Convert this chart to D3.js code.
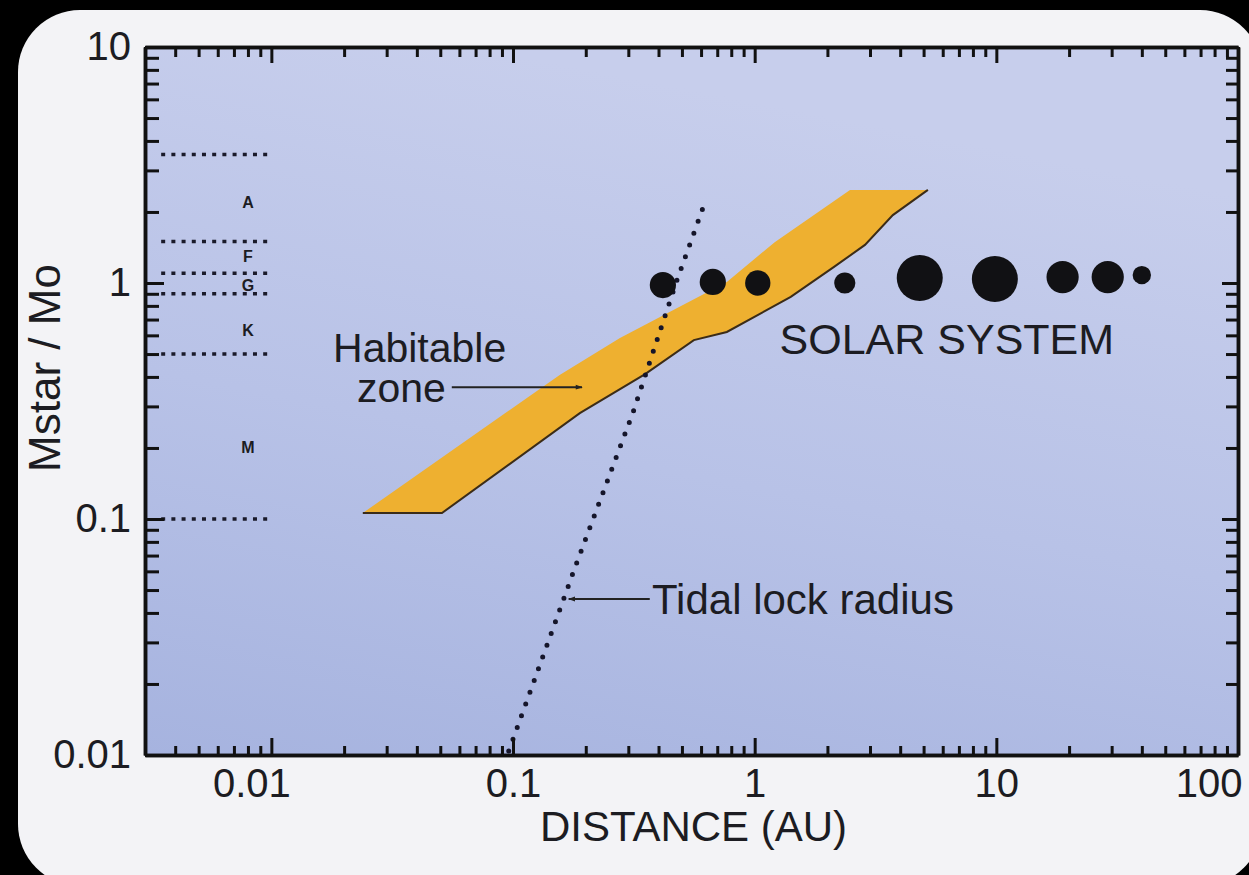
<!DOCTYPE html>
<html>
<head>
<meta charset="utf-8">
<script src="https://cdn.jsdelivr.net/npm/d3@7/dist/d3.min.js"></script>
<style>
  html, body { margin: 0; padding: 0; background: #000; }
  svg { display: block; }
  text { font-family: "Liberation Sans", Arial, Helvetica, sans-serif; fill: #1c1c22; }
</style>
</head>
<body>
<svg id="chart" width="1249" height="875"></svg>
<script>
// ---------------- data ----------------
const xDomain = [0.003, 100];          // DISTANCE (AU)
const yDomain = [0.01, 10];            // Mstar / Mo
const xMajorTicks = [0.01, 0.1, 1, 10, 100];
const xTickLabels = ["0.01", "0.1", "1", "10", "100"];
const yMajorTicks = [0.01, 0.1, 1, 10];
const yTickLabels = ["0.01", "0.1", "1", "10"];
const xTitle = "DISTANCE (AU)";
const yTitle = "Mstar / Mo";

// spectral type boundaries (Msun) and labels
const specBounds = [3.5, 1.5, 1.1, 0.9, 0.5, 0.1];
const specBoundAU = [0.0035, 0.0098];
const specLetters = ["A", "F", "G", "K", "M"];
const specLetterMass = [2.2, 1.29, 0.98, 0.63, 0.2];
const specLetterAU = 0.008;

// habitable zone band: inner (upper-left) edge and outer (lower-right) edge, [AU, Msun]
const hzInner = [[0.0239, 0.106], [0.156, 0.408], [0.277, 0.585], [0.767, 1.01], [1.21, 1.49], [2.48, 2.48]];
const hzOuter = [[0.0508, 0.106], [0.189, 0.281], [0.352, 0.411], [0.56, 0.573], [0.767, 0.62],
                 [1.41, 0.873], [2.13, 1.17], [2.86, 1.45], [3.73, 1.94], [5.21, 2.48]];

// tidal lock radius
const tidalAU = [0.096, 0.182, 0.313, 0.477, 0.617];
const tidalMass = [0.0104, 0.0638, 0.281, 1.03, 2.14];

// solar system planets
const planetNames = ["Mercury", "Venus", "Earth", "Mars", "Jupiter", "Saturn", "Uranus", "Neptune", "Pluto"];
const planetAU = [0.417, 0.671, 1.03, 2.36, 4.82, 9.86, 18.8, 28.9, 40];
const planetMass = [0.98, 1.01, 1.0, 1.0, 1.05, 1.04, 1.06, 1.06, 1.08];
const planetSize = [0.57, 0.57, 0.55, 0.46, 1.0, 1.0, 0.7, 0.7, 0.4];

// annotations [AU, Msun]
const hzLabelLines = ["Habitable", "zone"];
const hzLabelPos = [[0.018, 0.463], [0.0226, 0.312]];
const hzArrow = [[0.0558, 0.362], [0.193, 0.362]];
const tidalLabel = "Tidal lock radius";
const tidalLabelPos = [0.376, 0.0458];
const tidalArrow = [[0.368, 0.0458], [0.170, 0.0458]];
const solarLabel = "SOLAR SYSTEM";
const solarLabelPos = [6.24, 0.5];

// ---------------- layout ----------------
const W = 1249, H = 875;
const plot = { left: 145, right: 1238, top: 47, bottom: 755 };
const svg = d3.select("#chart");

const defs = svg.append("defs");
const grad = defs.append("linearGradient").attr("id", "bg").attr("x1", "0.3").attr("y1", "0").attr("x2", "0").attr("y2", "1");
grad.append("stop").attr("offset", "0").attr("stop-color", "#c7ceec");
grad.append("stop").attr("offset", "0.5").attr("stop-color", "#b8c2e7");
grad.append("stop").attr("offset", "1").attr("stop-color", "#a6b3df");

const marker = defs.append("marker").attr("id", "arrow").attr("viewBox", "0 0 10 10")
  .attr("refX", 9).attr("refY", 5).attr("markerWidth", 9).attr("markerHeight", 7)
  .attr("markerUnits", "userSpaceOnUse").attr("orient", "auto");
marker.append("path").attr("d", "M0,1.5 L10,5 L0,8.5 Z").attr("fill", "#222");

// card
svg.append("rect").attr("x", 18).attr("y", 10).attr("width", 1244).attr("height", 876)
  .attr("rx", 62).attr("ry", 62).attr("fill", "#f3f3f6");

const x = d3.scaleLog().domain(xDomain).range([plot.left, plot.right]);
const y = d3.scaleLog().domain(yDomain).range([plot.bottom, plot.top]);

// plot background
svg.append("rect").attr("x", plot.left).attr("y", plot.top)
  .attr("width", plot.right - plot.left).attr("height", plot.bottom - plot.top)
  .attr("fill", "url(#bg)");

const g = svg.append("g");

// spectral boundaries
g.selectAll("line.spec").data(specBounds).enter().append("line")
  .attr("x1", x(specBoundAU[0])).attr("x2", x(specBoundAU[1]))
  .attr("y1", d => y(d)).attr("y2", d => y(d))
  .attr("stroke", "#1a1a2a").attr("stroke-width", 3.5).attr("stroke-dasharray", "4 6.2");

g.selectAll("text.spec").data(specLetters).enter().append("text")
  .attr("x", x(specLetterAU)).attr("y", (d, i) => y(specLetterMass[i]))
  .attr("text-anchor", "middle").attr("dominant-baseline", "central")
  .attr("font-size", 16).attr("font-weight", "bold").text(d => d);

// habitable zone
const band = hzInner.concat(hzOuter.slice().reverse());
g.append("path").datum(band)
  .attr("d", d3.line().x(d => x(d[0])).y(d => y(d[1])).curve(d3.curveLinearClosed))
  .attr("fill", "#eeb030");
g.append("path").datum([hzInner[0]].concat(hzOuter))
  .attr("d", d3.line().x(d => x(d[0])).y(d => y(d[1])))
  .attr("fill", "none").attr("stroke", "#3b2c18").attr("stroke-width", 2);

// tidal lock radius
g.append("path").datum(tidalAU.map((a, i) => [a, tidalMass[i]]))
  .attr("d", d3.line().x(d => x(d[0])).y(d => y(d[1])))
  .attr("fill", "none").attr("stroke", "#15152a").attr("stroke-width", 5)
  .attr("stroke-linecap", "round").attr("stroke-dasharray", "0 12.5");

// planets
const r = d3.scaleLinear().domain([0, 1]).range([0, 23]);
g.selectAll("circle.planet").data(planetAU).enter().append("circle")
  .attr("cx", d => x(d)).attr("cy", (d, i) => y(planetMass[i]))
  .attr("r", (d, i) => r(planetSize[i])).attr("fill", "#111114");

// annotations
g.selectAll("text.hz").data(hzLabelLines).enter().append("text")
  .attr("x", (d, i) => x(hzLabelPos[i][0])).attr("y", (d, i) => y(hzLabelPos[i][1]))
  .attr("font-size", 41).text(d => d);
g.append("line").attr("x1", x(hzArrow[0][0])).attr("y1", y(hzArrow[0][1]))
  .attr("x2", x(hzArrow[1][0])).attr("y2", y(hzArrow[1][1]))
  .attr("stroke", "#222").attr("stroke-width", 2).attr("marker-end", "url(#arrow)");

g.append("text").attr("x", x(tidalLabelPos[0])).attr("y", y(tidalLabelPos[1]))
  .attr("dy", "0.36em").attr("font-size", 42).text(tidalLabel);
g.append("line").attr("x1", x(tidalArrow[0][0])).attr("y1", y(tidalArrow[0][1]))
  .attr("x2", x(tidalArrow[1][0])).attr("y2", y(tidalArrow[1][1]))
  .attr("stroke", "#222").attr("stroke-width", 2).attr("marker-end", "url(#arrow)");

g.append("text").attr("x", x(solarLabelPos[0])).attr("y", y(solarLabelPos[1]))
  .attr("text-anchor", "middle").attr("font-size", 43).text(solarLabel);

// ---------------- axes ----------------
const xMinor = x.ticks().filter(t => !xMajorTicks.some(m => Math.abs(m - t) / m < 1e-6));
const yMinor = y.ticks().filter(t => !yMajorTicks.some(m => Math.abs(m - t) / m < 1e-6));

function styleAxis(sel) {
  sel.selectAll(".tick line").attr("stroke", "#111").attr("stroke-width", 3);
  sel.select(".domain").attr("stroke", "#111").attr("stroke-width", 3.5);
  sel.selectAll("text").attr("font-size", 40).attr("fill", "#1c1c22")
    .attr("font-family", "'Liberation Sans', Arial, Helvetica, sans-serif");
}

// bottom
svg.append("g").attr("transform", `translate(0,${plot.bottom})`)
  .call(d3.axisBottom(x).tickValues(xMinor).tickSize(-9).tickSizeOuter(0).tickFormat(""))
  .call(styleAxis);
const xMajorAxis = svg.append("g").attr("transform", `translate(0,${plot.bottom})`)
  .call(d3.axisBottom(x).tickValues(xMajorTicks).tickSize(-17).tickSizeOuter(0).tickPadding(14)
    .tickFormat((d, i) => xTickLabels[i]))
  .call(styleAxis);
// keep the outermost labels inside the card, as in the original
xMajorAxis.selectAll(".tick text")
  .attr("text-anchor", (d, i, n) => i === n.length - 1 ? "end" : "middle")
  .attr("dx", (d, i, n) => i === 0 ? -20 : (i === n.length - 1 ? 4 : 0));
// top
svg.append("g").attr("transform", `translate(0,${plot.top})`)
  .call(d3.axisTop(x).tickValues(xMinor).tickSize(-10).tickSizeOuter(0).tickFormat(""))
  .call(styleAxis);
svg.append("g").attr("transform", `translate(0,${plot.top})`)
  .call(d3.axisTop(x).tickValues(xMajorTicks).tickSize(-16).tickSizeOuter(0).tickFormat(""))
  .call(styleAxis);
// left
svg.append("g").attr("transform", `translate(${plot.left},0)`)
  .call(d3.axisLeft(y).tickValues(yMinor).tickSize(-14).tickSizeOuter(0).tickFormat(""))
  .call(styleAxis);
svg.append("g").attr("transform", `translate(${plot.left},0)`)
  .call(d3.axisLeft(y).tickValues(yMajorTicks).tickSize(-19).tickSizeOuter(0).tickPadding(14)
    .tickFormat((d, i) => yTickLabels[i]))
  .call(styleAxis);
// right
svg.append("g").attr("transform", `translate(${plot.right},0)`)
  .call(d3.axisRight(y).tickValues(yMinor).tickSize(-12).tickSizeOuter(0).tickFormat(""))
  .call(styleAxis);
svg.append("g").attr("transform", `translate(${plot.right},0)`)
  .call(d3.axisRight(y).tickValues(yMajorTicks).tickSize(-16).tickSizeOuter(0).tickFormat(""))
  .call(styleAxis);

// titles
svg.append("text").attr("x", (plot.left + plot.right) / 2 + 2).attr("y", 841)
  .attr("text-anchor", "middle").attr("font-size", 42).text(xTitle);
svg.append("text").attr("transform", `translate(60,${(plot.top + plot.bottom) / 2 - 33}) rotate(-90)`)
  .attr("text-anchor", "middle").attr("font-size", 44).text(yTitle);
</script>
</body>
</html>
